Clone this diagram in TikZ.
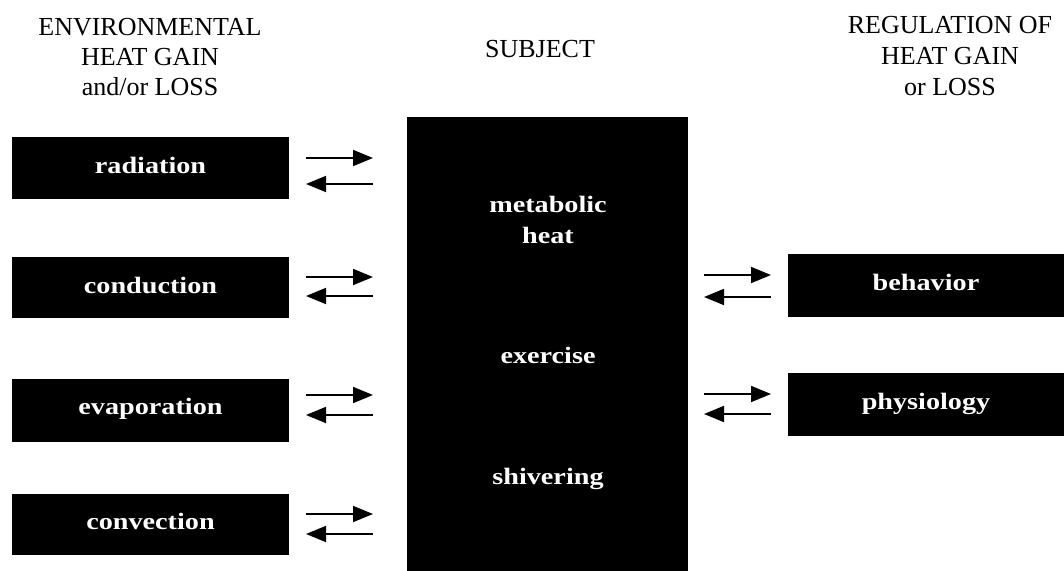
\documentclass[tikz,border=0pt]{standalone}
\usepackage{fontspec}
\setmainfont{Liberation Serif}
\usepackage{graphicx}
\usetikzlibrary{arrows.meta}
\begin{document}
\begin{tikzpicture}[x=1pt,y=-1pt,
  blk/.style={fill=black, draw=none, inner sep=0pt, anchor=north west},
  boxt/.style={text=white, font=\bfseries\fontsize{23.5}{31}\selectfont, inner sep=0pt, anchor=base, align=center},
  hdr/.style={font=\fontsize{26}{30.5}\selectfont, inner sep=0pt, anchor=base, align=center},
  arr/.style={line width=1.8pt, -{Triangle[length=20pt,width=16pt]}}]
\fill[white] (0,0) rectangle (1064,570);
\useasboundingbox (0,0) rectangle (1064,570);

% headers
\node[hdr] (h1a) at (150,35) {ENVIRONMENTAL};
\node[hdr] (h1b) at (150,65) {HEAT GAIN};
\node[hdr] (h1c) at (150,95) {and/or LOSS};
\node[hdr] (h2) at (540,57) {SUBJECT};
\node[hdr] (h3a) at (950,33) {REGULATION OF};
\node[hdr] (h3b) at (950,64) {HEAT GAIN};
\node[hdr] (h3c) at (950,95) {or LOSS};

% left boxes
\node[blk, minimum width=277pt, minimum height=62pt] (rad) at (12,137) {};
\node[blk, minimum width=277pt, minimum height=61pt] (cond) at (12,257) {};
\node[blk, minimum width=277pt, minimum height=63pt] (evap) at (12,379) {};
\node[blk, minimum width=277pt, minimum height=61pt] (conv) at (12,494) {};
\node[boxt] (radt) at (150.5,173) {\scalebox{1.2}[1]{radiation}};
\node[boxt] (condt) at (150.5,293) {\scalebox{1.2}[1]{conduction}};
\node[boxt] (evapt) at (150.5,414) {\scalebox{1.2}[1]{evaporation}};
\node[boxt] (convt) at (150.5,529) {\scalebox{1.2}[1]{convection}};

% subject box
\node[blk, minimum width=281pt, minimum height=455pt] (subj) at (407,117) {};
\node[boxt] (met) at (548,212) {\scalebox{1.2}[1]{metabolic}};
\node[boxt] (heat) at (548,243) {\scalebox{1.2}[1]{heat}};
\node[boxt] (exer) at (548,363) {\scalebox{1.2}[1]{exercise}};
\node[boxt] (shiv) at (548,484) {\scalebox{1.2}[1]{shivering}};

% right boxes
\node[blk, minimum width=278pt, minimum height=63pt] (beh) at (788,254) {};
\node[blk, minimum width=278pt, minimum height=63pt] (phys) at (788,373) {};
\node[boxt] (beht) at (926,290) {\scalebox{1.2}[1]{behavior}};
\node[boxt] (physt) at (926,409) {\scalebox{1.2}[1]{physiology}};

% left arrows
\foreach \n/\ya/\yb in {1/158/184, 2/277/296, 3/395/415, 4/514/534}{
  \coordinate (la\n) at (306,\ya);
  \coordinate (lb\n) at (373,\ya);
  \coordinate (lc\n) at (373,\yb);
  \coordinate (ld\n) at (306,\yb);
  \draw[arr] (la\n) -- (lb\n);
  \draw[arr] (lc\n) -- (ld\n);
}
% right arrows
\foreach \n/\ya/\yb in {1/275/297, 2/394/414}{
  \coordinate (ra\n) at (704,\ya);
  \coordinate (rb\n) at (771,\ya);
  \coordinate (rc\n) at (771,\yb);
  \coordinate (rd\n) at (704,\yb);
  \draw[arr] (ra\n) -- (rb\n);
  \draw[arr] (rc\n) -- (rd\n);
}
\end{tikzpicture}
\end{document}
